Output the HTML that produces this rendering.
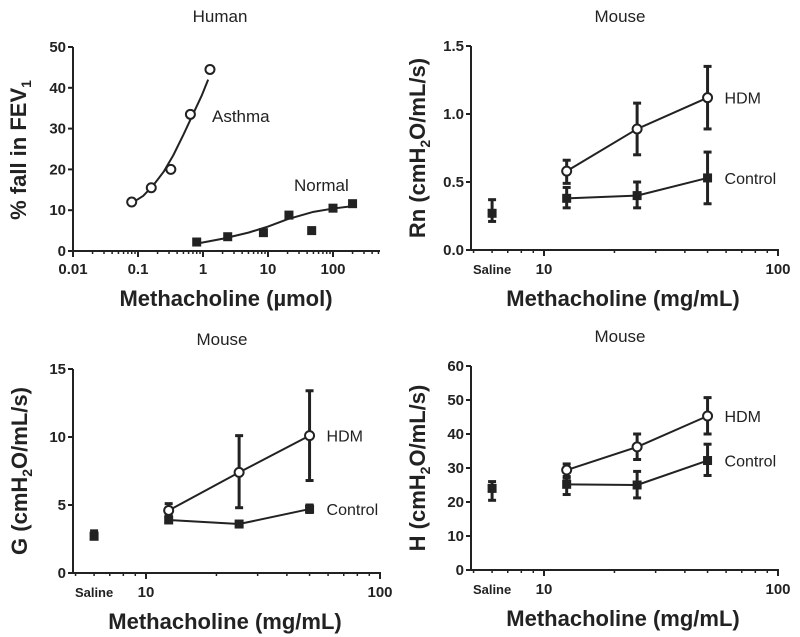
<!DOCTYPE html>
<html><head><meta charset="utf-8">
<style>
body{margin:0;background:#fff;}
svg{display:block;font-family:"Liberation Sans",Arial,sans-serif;}
.tk{font-weight:bold;font-size:15px;fill:#222;}
.ttl{font-size:17px;fill:#222;}
.axt{font-weight:bold;font-size:22px;fill:#222;}
.lab{font-size:16px;fill:#222;}
</style></head>
<body>
<svg id="chart" width="800" height="637" viewBox="0 0 800 637"></svg>
<script>
// ---- Human panel data ----
const asthmaDose = [0.08, 0.16, 0.32, 0.64, 1.28];
const asthmaFall = [12, 15.5, 20, 33.5, 44.5];
const asthmaFitDose = [0.085, 0.12, 0.17, 0.25, 0.35, 0.5, 0.7, 0.95, 1.2];
const asthmaFitFall = [12, 13.5, 16, 19.5, 23.5, 28.5, 33.5, 38, 42];
const normalDose = [0.8, 2.4, 8.5, 21, 47, 100, 200];
const normalFall = [2.2, 3.5, 4.5, 8.8, 5, 10.5, 11.6];
const normalFitDose = [0.8, 2, 5, 10, 20, 50, 100, 200];
const normalFitFall = [1.8, 3, 4.5, 6, 7.8, 9.6, 10.4, 11];
const humanYTicks = [0, 10, 20, 30, 40, 50];
const humanXTicks = ["0.01", "0.1", "1", "10", "100"];
// ---- Mouse data ----
const mouseDose = [12.5, 25, 50];
const salineDose = 6;
const rnHDM = [0.58, 0.89, 1.12], rnHDMlo = [0.49, 0.70, 0.89], rnHDMhi = [0.66, 1.08, 1.35];
const rnCtl = [0.38, 0.40, 0.53], rnCtlLo = [0.31, 0.31, 0.34], rnCtlHi = [0.46, 0.50, 0.72];
const rnSal = [0.27], rnSalLo = [0.21], rnSalHi = [0.37];
const gHDM = [4.6, 7.4, 10.1], gHDMlo = [4.3, 4.8, 6.8], gHDMhi = [5.1, 10.1, 13.4];
const gCtl = [3.9, 3.6, 4.7], gCtlLo = [3.75, 3.5, 4.45], gCtlHi = [4.05, 3.7, 5.0];
const gSal = [2.7], gSalLo = [2.5], gSalHi = [3.1];
const hHDM = [29.4, 36.2, 45.3], hHDMlo = [27.5, 32.5, 40], hHDMhi = [31.2, 40, 50.7];
const hCtl = [25.2, 25.0, 32.2], hCtlLo = [22.2, 21.2, 27.8], hCtlHi = [27, 29, 37];
const hSal = [24], hSalLo = [20.5], hSalHi = [26];
const rnTicks = ["0.0", "0.5", "1.0", "1.5"];
const gTicks = [0, 5, 10, 15];
const hTicks = [0, 10, 20, 30, 40, 50, 60];

const svg = document.getElementById('chart');
const NS = 'http://www.w3.org/2000/svg';
function el(tag, attrs, parent) {
  const e = document.createElementNS(NS, tag);
  for (const k in attrs) e.setAttribute(k, attrs[k]);
  (parent || svg).appendChild(e);
  return e;
}
function txt(x, y, s, cls, anchor, parent, rot) {
  const t = el('text', {x: x, y: y, class: cls, 'text-anchor': anchor || 'middle'}, parent);
  if (rot) t.setAttribute('transform', 'rotate(-90 ' + x + ' ' + y + ')');
  t.textContent = s;
  return t;
}
function makeAxes(g, o) {
  const X = v => o.xDec0 + (Math.log10(v) - o.dec0) * o.decW;
  const Y = v => o.yBot - v / o.yMax * (o.yBot - o.yTop);
  el('line', {x1: o.xAx, y1: o.yTop, x2: o.xAx, y2: o.yBot, stroke: '#222', 'stroke-width': 2}, g);
  el('line', {x1: o.x0, y1: o.yBot, x2: o.x1, y2: o.yBot, stroke: '#222', 'stroke-width': 2}, g);
  o.yticks.forEach(t => {
    const y = Y(parseFloat(t));
    el('line', {x1: o.xAx - 5, y1: y, x2: o.xAx, y2: y, stroke: '#222', 'stroke-width': 2}, g);
    txt(o.xAx - 7, y + 5, String(t), 'tk', 'end', g);
  });
  for (let d = o.tickDecMin; d <= o.tickDecMax; d++) {
    for (let m = 1; m <= 9; m++) {
      const v = m * Math.pow(10, d);
      const x = X(v);
      if (x < o.x0 - 0.5 || x > o.x1 + 0.5) continue;
      if (m === 1) el('line', {x1: x, y1: o.yBot, x2: x, y2: o.yBot + 6, stroke: '#222', 'stroke-width': 2}, g);
      else el('line', {x1: x, y1: o.yBot, x2: x, y2: o.yBot + 3, stroke: '#222', 'stroke-width': 1.5}, g);
    }
  }
  return {X, Y};
}
function circ(x, y, g) { el('circle', {cx: x, cy: y, r: 4.5, fill: '#fff', stroke: '#222', 'stroke-width': 2}, g); }
function sq(x, y, g) { el('rect', {x: x - 4.5, y: y - 4.5, width: 9, height: 9, fill: '#222'}, g); }
function errbar(x, lo, hi, g) {
  el('line', {x1: x, y1: lo, x2: x, y2: hi, stroke: '#222', 'stroke-width': 3}, g);
  el('line', {x1: x - 4, y1: lo, x2: x + 4, y2: lo, stroke: '#222', 'stroke-width': 3}, g);
  el('line', {x1: x - 4, y1: hi, x2: x + 4, y2: hi, stroke: '#222', 'stroke-width': 3}, g);
}
function poly(xs, ys, A, g, name) {
  const p = el('polyline', {points: xs.map((v, i) => A.X(v) + ',' + A.Y(ys[i])).join(' '), fill: 'none', stroke: '#222', 'stroke-width': 2, 'stroke-linejoin': 'round'}, g);
  
  
}

// ---- Human panel ----
{
  const g = el('g', {});
  
  
  const A = makeAxes(g, {x0: 73, xAx: 73, x1: 380, yTop: 47, yBot: 251, yMax: 50, yticks: humanYTicks,
    xDec0: 73, dec0: -2, decW: 65, tickDecMin: -2, tickDecMax: 2});
  humanXTicks.forEach(s => txt(A.X(parseFloat(s)), 274, s, 'tk', 'middle', g));
  txt(220, 22, 'Human', 'ttl', 'middle', g);
  const yt = txt(26, 150, '% fall in FEV', 'axt', 'middle', g, true);
  const sub = el('tspan', {'font-size': 14, dy: 5}, yt); sub.textContent = '1';
  txt(226, 306, 'Methacholine (µmol)', 'axt', 'middle', g);
  poly(asthmaFitDose, asthmaFitFall, A, g, 'asthma-fit-curve');
  poly(normalFitDose, normalFitFall, A, g, 'normal-fit-curve');
  asthmaDose.forEach((d, i) => circ(A.X(d), A.Y(asthmaFall[i]), g));
  normalDose.forEach((d, i) => sq(A.X(d), A.Y(normalFall[i]), g));
  txt(212, 122, 'Asthma', 'lab', 'start', g).setAttribute('style', 'font-size:17px');
  txt(294, 191, 'Normal', 'lab', 'start', g).setAttribute('style', 'font-size:17px');
}

function mousePanel(ox, oy, yMax, yticks, title, ytitle, hdm, hlo, hhi, ctl, clo, chi, sal, slo, shi, name) {
  const g = el('g', {});
  
  
  const A = makeAxes(g, {x0: ox + 466, xAx: ox + 471, x1: ox + 779, yTop: oy + 46, yBot: oy + 250, yMax: yMax, yticks: yticks,
    xDec0: ox + 544, dec0: 1, decW: 234, tickDecMin: 0, tickDecMax: 2});
  txt(A.X(10), oy + 274, '10', 'tk', 'middle', g);
  txt(A.X(100), oy + 274, '100', 'tk', 'middle', g);
  txt(A.X(salineDose), oy + 274, 'Saline', 'tk', 'middle', g).setAttribute('style', 'font-size:13px');
  txt(ox + 620, oy + 22, title, 'ttl', 'middle', g);
  const yt = txt(ox + 425, oy + 148, ytitle[0], 'axt', 'middle', g, true);
  const s1 = el('tspan', {'font-size': 14, dy: 5}, yt); s1.textContent = '2';
  const s2 = el('tspan', {dy: -5}, yt); s2.textContent = ytitle[1];
  txt(ox + 623, oy + 306, 'Methacholine (mg/mL)', 'axt', 'middle', g);
  poly(mouseDose, hdm, A, g, 'hdm-line');
  poly(mouseDose, ctl, A, g, 'control-line');
  mouseDose.forEach((d, i) => { errbar(A.X(d), A.Y(hlo[i]), A.Y(hhi[i]), g); });
  mouseDose.forEach((d, i) => { errbar(A.X(d), A.Y(clo[i]), A.Y(chi[i]), g); });
  mouseDose.forEach((d, i) => sq(A.X(d), A.Y(ctl[i]), g));
  mouseDose.forEach((d, i) => circ(A.X(d), A.Y(hdm[i]), g));
  errbar(A.X(salineDose), A.Y(slo[0]), A.Y(shi[0]), g);
  sq(A.X(salineDose), A.Y(sal[0]), g);
  const lx = A.X(mouseDose[2]) + 17;
  txt(lx, A.Y(hdm[hdm.length - 1]) + 6, 'HDM', 'lab', 'start', g);
  txt(lx, A.Y(ctl[ctl.length - 1]) + 6, 'Control', 'lab', 'start', g);
}
mousePanel(0, 0, 1.5, rnTicks, 'Mouse', ['Rn (cmH', 'O/mL/s)'], rnHDM, rnHDMlo, rnHDMhi, rnCtl, rnCtlLo, rnCtlHi, rnSal, rnSalLo, rnSalHi, 'rn-panel');
mousePanel(-398, 323, 15, gTicks, 'Mouse', ['G (cmH', 'O/mL/s)'], gHDM, gHDMlo, gHDMhi, gCtl, gCtlLo, gCtlHi, gSal, gSalLo, gSalHi, 'g-panel');
mousePanel(0, 320, 60, hTicks, 'Mouse', ['H (cmH', 'O/mL/s)'], hHDM, hHDMlo, hHDMhi, hCtl, hCtlLo, hCtlHi, hSal, hSalLo, hSalHi, 'h-panel');
</script>
</body></html>
